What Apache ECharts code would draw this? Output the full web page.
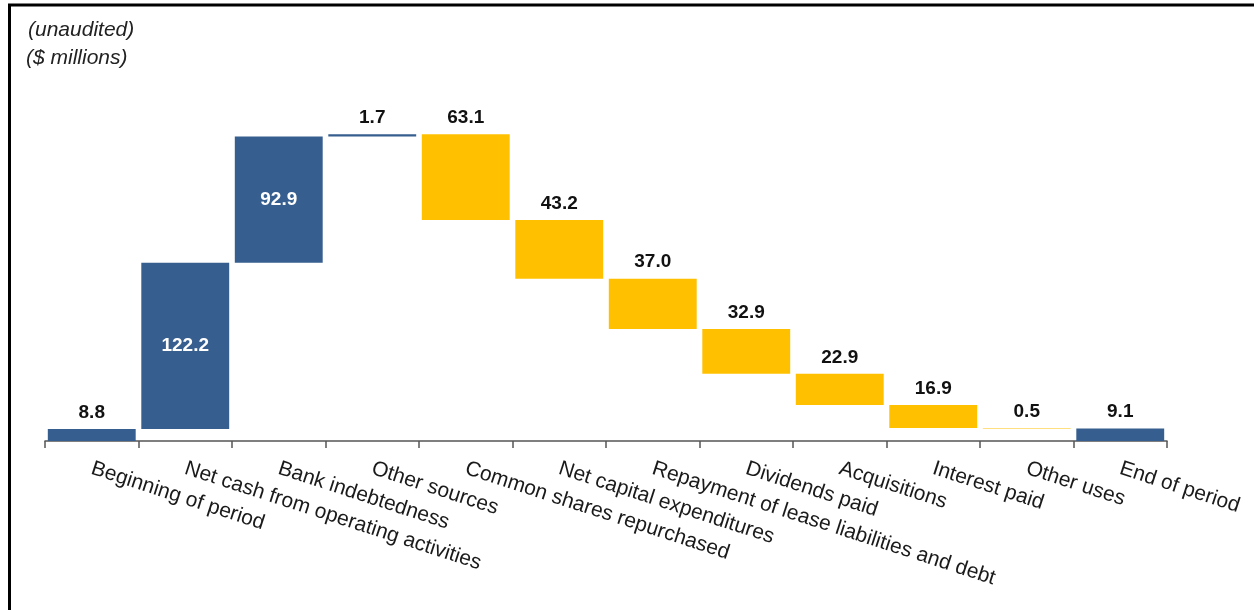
<!DOCTYPE html>
<html>
<head>
<meta charset="utf-8">
<script src="https://cdn.jsdelivr.net/npm/echarts@6/dist/echarts.min.js"></script>
<style>
html,body{margin:0;padding:0;background:#fff;}
#chart{width:1254px;height:610px;}
</style>
</head>
<body>
<div id="chart"></div>
<script>
const categories = ["Beginning of period","Net cash from operating activities","Bank indebtedness","Other sources","Common shares repurchased","Net capital expenditures","Repayment of lease liabilities and debt","Dividends paid","Acquisitions","Interest paid","Other uses","End of period"];
const changes = [8.8, 122.2, 92.9, 1.7, -63.1, -43.2, -37.0, -32.9, -22.9, -16.9, -0.5, 9.1];
const isTotal = [true,false,false,false,false,false,false,false,false,false,false,true];
const labelInside = [false,true,true,false,false,false,false,false,false,false,false,false];

const BLUE = "#365E8E", YELLOW = "#FFC000";
let running = 0;
const baseData = [], visData = [];
changes.forEach((v, i) => {
  if (isTotal[i]) {
    baseData.push(0);
    visData.push({value: Math.abs(v), itemStyle:{color: BLUE},
      label:{formatter: v.toFixed(1)}});
    running = v;
  } else if (v >= 0) {
    baseData.push(running);
    visData.push({value: v, itemStyle:{color: BLUE},
      label: labelInside[i] ? {position:'inside', color:'#fff', formatter: v.toFixed(1)} : {formatter: v.toFixed(1)}});
    running += v;
  } else {
    running += v;
    baseData.push(running);
    visData.push({value: -v, itemStyle:{color: YELLOW},
      label:{formatter: (-v).toFixed(1)}});
  }
});

const chart = echarts.init(document.getElementById('chart'), null, {renderer:'canvas'});
chart.setOption({
  animation: false,
  backgroundColor: '#fff',
  grid: {left: 45, right: 87, top: 101, bottom: 169},
  xAxis: {
    type: 'category',
    data: categories,
    axisLine: {lineStyle: {color: '#555', width: 1.5}},
    axisTick: {show: true, length: 7, lineStyle: {color: '#555', width: 1.5}},
    axisLabel: {rotate: -18, interval: 0, margin: 27, fontFamily: 'Liberation Sans, Arial', fontSize: 21, color: '#1a1a1a'}
  },
  yAxis: {type: 'value', min: 0, max: 250, show: false, splitLine: {show: false}},
  series: [
    {type: 'bar', stack: 'w', data: baseData, itemStyle: {color: 'transparent'}, barCategoryGap: '6%', silent: true},
    {type: 'bar', stack: 'w', data: visData, barCategoryGap: '6%',
     label: {show: true, position: 'top', distance: 7, fontFamily: 'Liberation Sans, Arial', fontWeight: 'bold', fontSize: 19, color: '#111'}}
  ],
  graphic: [
    {type: 'text', left: 28, top: 20, style: {text: '(unaudited)', font: 'italic 21px "Liberation Sans", Arial', fill: '#222'}},
    {type: 'text', left: 26, top: 48, style: {text: '($ millions)', font: 'italic 21px "Liberation Sans", Arial', fill: '#222'}},
    {type: 'line', shape: {x1: 8, y1: 5, x2: 1254, y2: 5}, style: {stroke: '#000', lineWidth: 3}},
    {type: 'line', shape: {x1: 9.5, y1: 4, x2: 9.5, y2: 610}, style: {stroke: '#000', lineWidth: 3}}
  ]
});
</script>
</body>
</html>
